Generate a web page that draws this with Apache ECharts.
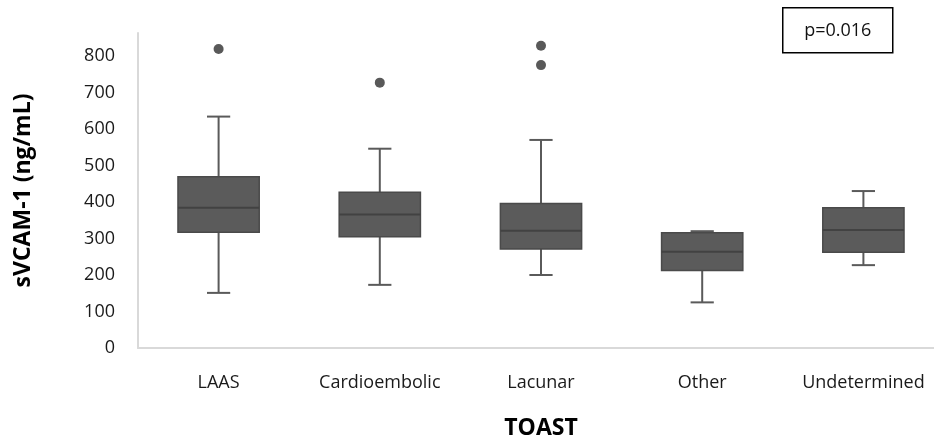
<!DOCTYPE html>
<html>
<head>
<meta charset="utf-8">
<script src="https://cdn.jsdelivr.net/npm/echarts@6/dist/echarts.min.js"></script>
<style>
html,body{margin:0;padding:0;background:#fff;overflow:hidden;}
#chart{width:934px;height:439px;}
</style>
</head>
<body>
<div id="chart"></div>
<script>
var categories = ['LAAS', 'Cardioembolic', 'Lacunar', 'Other', 'Undetermined'];
var whiskerLow  = [151, 173, 200, 125, 227];
var q1          = [317, 305, 271, 212, 262];
var median      = [384, 366, 321, 264, 323];
var q3          = [469, 427, 396, 316, 384];
var whiskerHigh = [634, 546, 570, 320, 430];
var outliers    = [[0, 819], [1, 727], [2, 828], [2, 775]];
var yTicks      = [0, 100, 200, 300, 400, 500, 600, 700, 800];
var pText       = 'p=0.016';

var boxData = categories.map(function (c, i) {
  return [i, whiskerLow[i], q1[i], median[i], q3[i], whiskerHigh[i]];
});

var chart = echarts.init(document.getElementById('chart'), null, {renderer: 'canvas'});

function renderBox(params, api) {
  var i = api.value(0);
  var pLow = api.coord([i, api.value(1)]);
  var pQ1 = api.coord([i, api.value(2)]);
  var pMed = api.coord([i, api.value(3)]);
  var pQ3 = api.coord([i, api.value(4)]);
  var pHigh = api.coord([i, api.value(5)]);
  var bandW = api.size([1, 0])[0];
  var halfBox = bandW * 0.252;
  var halfCap = bandW * 0.072;
  var x = pMed[0];
  var wStyle = {stroke: '#5a5a5a', lineWidth: 2, fill: null};
  return {
    type: 'group',
    children: [
      {type: 'line', shape: {x1: x, y1: pQ3[1], x2: x, y2: pHigh[1]}, style: wStyle},
      {type: 'line', shape: {x1: x, y1: pQ1[1], x2: x, y2: pLow[1]}, style: wStyle},
      {type: 'line', shape: {x1: x - halfCap, y1: pHigh[1], x2: x + halfCap, y2: pHigh[1]}, style: wStyle},
      {type: 'line', shape: {x1: x - halfCap, y1: pLow[1], x2: x + halfCap, y2: pLow[1]}, style: wStyle},
      {type: 'rect', shape: {x: x - halfBox, y: pQ3[1], width: halfBox * 2, height: pQ1[1] - pQ3[1]},
        style: {fill: '#5b5b5b', stroke: '#4a4a4a', lineWidth: 1.5}},
      {type: 'line', shape: {x1: x - halfBox, y1: pMed[1], x2: x + halfBox, y2: pMed[1]},
        style: {stroke: '#424242', lineWidth: 2}}
    ]
  };
}

var option = {
  backgroundColor: '#fff',
  animation: false,
  grid: {left: 138, right: -10, top: 33, bottom: 91, containLabel: false, outerBoundsMode: 'none'},
  xAxis: {
    type: 'category',
    data: categories,
    boundaryGap: true,
    name: 'TOAST',
    nameLocation: 'middle',
    nameGap: 69,
    nameTextStyle: {fontFamily: 'Open Sans', fontWeight: 'bold', fontSize: 23, color: '#000'},
    axisLine: {lineStyle: {color: '#d9d9d9', width: 2}},
    axisTick: {show: false},
    axisLabel: {fontFamily: 'Open Sans', fontSize: 18, color: '#1a1a1a', margin: 26, interval: 0},
    splitLine: {show: false}
  },
  yAxis: {
    type: 'value',
    min: 0,
    max: 863,
    interval: 100,
    name: 'sVCAM-1 (ng/mL)',
    nameLocation: 'middle',
    nameGap: 103,
    nameTextStyle: {fontFamily: 'Open Sans', fontWeight: 'bold', fontSize: 23, color: '#000'},
    axisLine: {show: true, lineStyle: {color: '#d9d9d9', width: 2}},
    axisTick: {show: false},
    splitLine: {show: false},
    axisLabel: {
      fontFamily: 'Open Sans', fontSize: 18, color: '#1a1a1a', margin: 23,
      showMaxLabel: false,
      formatter: function (v) { return yTicks.indexOf(v) >= 0 ? String(v) : ''; }
    }
  },
  graphic: [
    {
      type: 'group',
      left: 782, top: 7,
      children: [
        {type: 'rect', shape: {x: 0, y: 0, width: 110, height: 45},
          style: {fill: '#fff', stroke: '#000', lineWidth: 1.5}},
        {type: 'text', x: 55, y: 23,
          style: {text: pText, fontFamily: 'Open Sans', fontSize: 18, fill: '#111',
            textAlign: 'center', textVerticalAlign: 'middle'}}
      ]
    }
  ],
  series: [
    {
      type: 'custom',
      renderItem: renderBox,
      encode: {x: 0, y: [1, 2, 3, 4, 5]},
      data: boxData,
      z: 2
    },
    {
      type: 'scatter',
      data: outliers,
      symbol: 'circle',
      symbolSize: 10,
      itemStyle: {color: '#595959', opacity: 1},
      z: 3
    }
  ]
};
chart.setOption(option);
</script>
</body>
</html>
